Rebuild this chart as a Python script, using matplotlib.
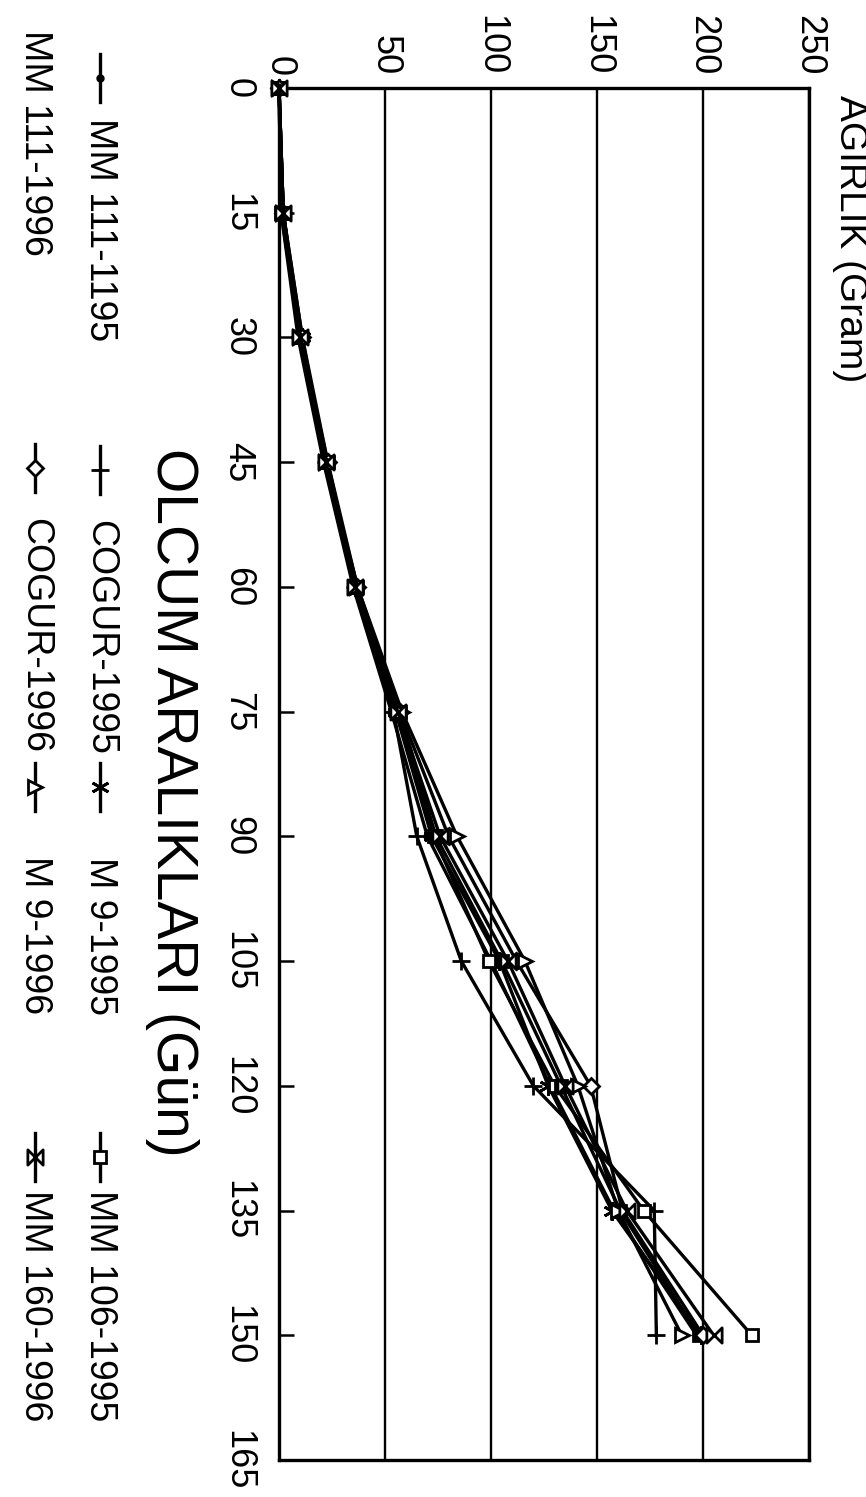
import matplotlib
matplotlib.use("Agg")
import matplotlib.pyplot as plt
from matplotlib.path import Path

plt.rcParams['font.family'] = ['Liberation Sans', 'DejaVu Sans']

# ---------------- data ----------------
days = [0, 15, 30, 45, 60, 75, 90, 105, 120, 135, 150]
mm111_1995 = [0, 1, 9, 21, 35, 53, 70, 100, 128, 158, 197]
cogur_1995 = [0, 2, 10, 22, 36, 54, 65, 86, 120, 177, 178]
m9_1995 = [0, 2, 11, 22, 36, 55, 72, 104, 127, 157, 199]
mm106_1995 = [0, 1, 10, 22, 37, 56, 73, 99, 130, 172, 223]
mm111_1996 = [0, 2, 10, 23, 36, 57, 74, 105, 133, 161, 198]
cogur_1996 = [0, 2, 11, 23, 37, 57, 80, 112, 147, 162, 200]
m9_1996 = [0, 2, 10, 22, 37, 58, 84, 116, 141, 160, 190]
mm160_1996 = [0, 2, 10, 22, 36, 56, 76, 108, 135, 164, 205]

series_names = ["MM 111-1195", "COGUR-1995", "M 9-1995", "MM 106-1995",
                "MM 111-1996", "COGUR-1996", "M 9-1996", "MM 160-1996"]
series_vals = [mm111_1995, cogur_1995, m9_1995, mm106_1995,
               mm111_1996, cogur_1996, m9_1996, mm160_1996]

day_ticks = [0, 15, 30, 45, 60, 75, 90, 105, 120, 135, 150, 165]
weight_ticks = [0, 50, 100, 150, 200, 250]

x_label = "OLCUM ARALIKLARI (Gün)"
y_label = "AGIRLIK (Gram)"

# ---------------- styles ----------------
bowtie = Path([(-1, -1), (1, 1), (1, -1), (-1, 1), (-1, -1)],
              [Path.MOVETO, Path.LINETO, Path.LINETO, Path.LINETO, Path.CLOSEPOLY])
styles = [
    dict(marker='o', ms=4, mfc='black'),
    dict(marker='+', ms=13, mfc='none'),
    dict(marker=(6, 2, 0), ms=13, mfc='none'),
    dict(marker='s', ms=9, mfc='white'),
    dict(marker='s', ms=8, mfc='black'),
    dict(marker='D', ms=8, mfc='white'),
    dict(marker='>', ms=10, mfc='white'),
    dict(marker=bowtie, ms=11, mfc='white'),
]

W, H = 866, 1497
fig = plt.figure(figsize=(W / 100, H / 100), dpi=100)
fig.patch.set_facecolor('white')

L, R, T, B = 279, 809, 88, 1460
ax = fig.add_axes([L / W, 1 - B / H, (R - L) / W, (B - T) / H])

for vals, st in zip(series_vals, styles):
    ax.plot(vals, days, color='black', lw=2.4, mec='black', mew=2.0,
            clip_on=False, zorder=3, **st)

ax.set_xlim(0, 250)
ax.set_ylim(165, 0)
ax.xaxis.tick_top()
ax.set_xticks(weight_ticks)
ax.set_xticklabels([str(v) for v in weight_ticks], rotation=-90, fontsize=26)
ax.set_yticks(day_ticks)
ax.set_yticklabels([str(v) for v in day_ticks], rotation=-90, fontsize=26,
                   va='center')
ax.tick_params(axis='x', length=0, pad=9)
ax.tick_params(axis='y', direction='in', length=11, width=1.8, pad=17)
ax.grid(axis='x', color='black', lw=1.7)
ax.set_axisbelow(True)
for s in ax.spines.values():
    s.set_linewidth(2.4)

fig.text(850 / W, 1 - 95 / H, y_label, rotation=-90, ha='center', va='top',
         fontsize=28)
fig.text(172 / W, 1 - 802 / H, x_label, rotation=-90, ha='center',
         va='center', fontsize=41)

# ---------------- legend (rotated, drawn by hand) ----------------
ov = fig.add_axes([0, 0, 1, 1], zorder=-1)
ov.set_xlim(0, W)
ov.set_ylim(H, 0)
ov.axis('off')

leg_pos = [  # (x column, marker centre y, text start y)
    (100, 78, 118), (100, 470, 520), (100, 787, 857), (100, 1157, 1190),
    (35, None, 30), (35, 468, 518), (35, 787, 856), (35, 1157, 1190),
]
for (x, yc, yt), name, st in zip(leg_pos, series_names, styles):
    if yc is not None:
        ov.plot([x, x], [yc - 24, yc + 24], color='black', lw=2.4)
        ov.plot([x], [yc], color='black', mec='black', mew=2.0, **st)
    ov.text(x, yt, name, rotation=-90, ha='center', va='top', fontsize=27)

fig.savefig("out.png", dpi=100, facecolor='white')
